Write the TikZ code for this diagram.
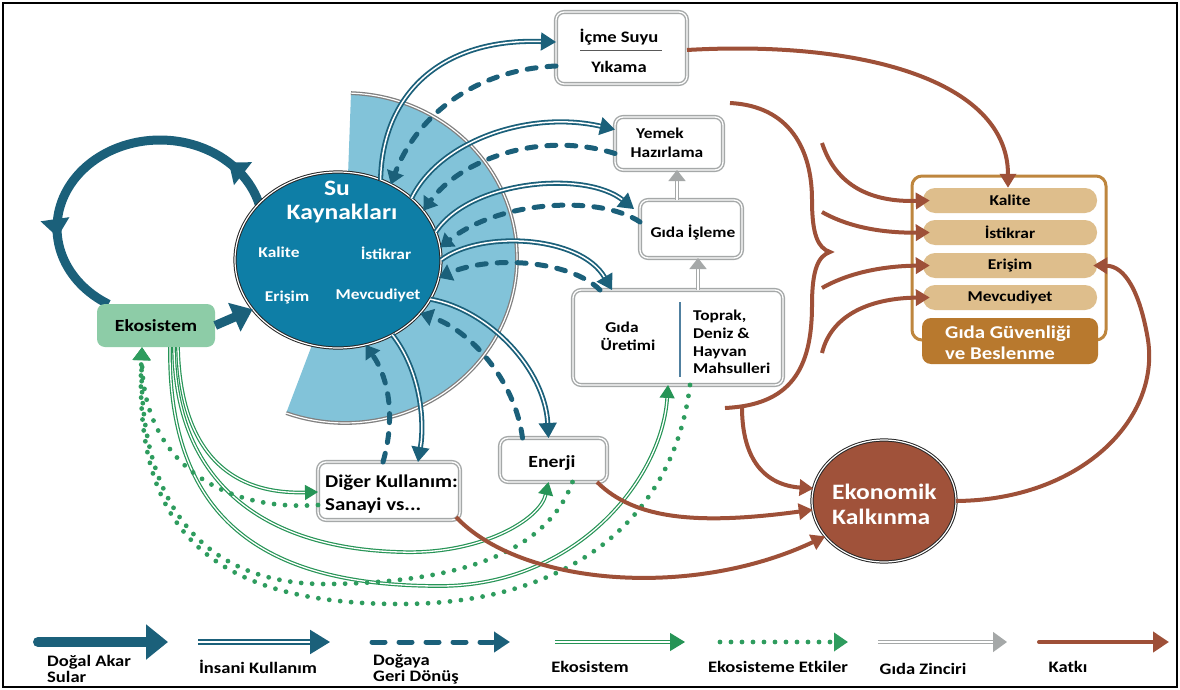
\documentclass[tikz,border=0pt]{standalone}
\usepackage{fontspec}
\setmainfont{Carlito}[FakeStretch=1.16]
\usetikzlibrary{arrows.meta,shapes.geometric,decorations.markings}
\definecolor{cTeal}{RGB}{27,96,122}
\definecolor{cSu}{RGB}{14,126,166}
\definecolor{cFan}{RGB}{130,195,217}
\definecolor{cGreen}{RGB}{38,148,86}
\definecolor{cDot}{RGB}{46,156,94}
\definecolor{cEco}{RGB}{141,204,167}
\definecolor{cBrown}{RGB}{158,80,56}
\definecolor{cEkon}{RGB}{160,82,58}
\definecolor{cTan}{RGB}{222,190,140}
\definecolor{cOchre}{RGB}{190,134,62}
\definecolor{cLab}{RGB}{184,121,46}
\definecolor{cGray}{RGB}{165,168,168}
\definecolor{cDiv}{RGB}{80,128,160}
\newcommand\fsz[2]{\fontsize{#1}{#2}\selectfont\bfseries}
\begin{document}
\begin{tikzpicture}[x=1pt,y=-1pt,
  dbl/.style={draw=cTeal,line width=1.8pt,double=white,double distance=1.5pt,-{Triangle[length=15pt,width=18pt]}},
  dsh/.style={draw=cTeal,line width=5pt,line cap=round,dash pattern=on 9pt off 11pt,-{Triangle[length=13pt,width=17pt]}},
  gdbl/.style={draw=cGreen,line width=1.2pt,double=white,double distance=1.3pt,-{Triangle[length=13pt,width=15pt]}},
  gdot/.style={draw=cDot,line width=4.8pt,line cap=round,dash pattern=on 0pt off 11pt,-{Triangle[length=13pt,width=17pt]}},
  brn/.style={draw=cBrown,line width=4pt,-{Triangle[length=14pt,width=16pt]}},
  gyar/.style={draw=cGray,line width=1.5pt,double=white,double distance=1.6pt,-{Triangle[length=11pt,width=17pt]}},
  gbox/.style={draw=cGray,line width=1.4pt,double=white,double distance=1.3pt,fill=white,rounded corners=8pt,inner sep=0pt,outer sep=0pt},
  pill/.style={fill=cTan,rounded corners=12pt,minimum width=174pt,minimum height=25pt,inner sep=0pt,font=\fsz{15}{17}},
  circ/.style={ellipse,draw=black!85,line width=1pt,double=white,double distance=1.2pt,inner sep=0pt,outer sep=0pt},
  lbl/.style={inner sep=0pt,font=\fsz{16}{18}},
]
\useasboundingbox (0,0) rectangle (1180,690);
\fill[white] (0,0) rectangle (1180,690);
\draw[line width=2pt] (3,3) rectangle (1177,687);

% fan
\fill[cFan] (345,258) -- plot[domain=-88:110,samples=80] ({345+172*cos(\x)},{258+165*sin(\x)}) -- cycle;
\draw[draw=gray,line width=1.3pt,double=white,double distance=1.2pt] plot[domain=-88:110,samples=80] ({345+172*cos(\x)},{258+165*sin(\x)});

% loop
\draw[cTeal,line width=9pt,postaction={decorate},decoration={markings,
  mark=at position 0.16 with {\arrow{Triangle[length=18pt,width=28pt]}},
  mark=at position 0.77 with {\arrow{Triangle[length=18pt,width=28pt]}}}]
  plot[domain=0:230,samples=90] ({160+103*cos(-10-\x)},{228+88*sin(-10-\x)});

% main nodes
\node[circ,fill=cSu,minimum width=206pt,minimum height=176pt] (su) at (338,260) {};
\node[lbl,text=white,font=\fsz{22}{24}] (suA) at (337,188) {Su};
\node[lbl,text=white,font=\fsz{22}{24}] (suB) at (342,214) {Kaynakları};
\node[lbl,text=white,font=\fsz{15}{17}] (suK) at (279,252) {Kalite};
\node[lbl,text=white,font=\fsz{15}{17}] (suI) at (386,253) {İstikrar};
\node[lbl,text=white,font=\fsz{15}{17}] (suE) at (287,297) {Erişim};
\node[lbl,text=white,font=\fsz{15}{17}] (suM) at (378,295) {Mevcudiyet};

\node[fill=cEco,rounded corners=8pt,minimum width=118pt,minimum height=43pt,inner sep=0pt,font=\fsz{17}{20}] (ekosis) at (156,325.5) {Ekosistem};
\draw[cTeal,line width=9pt,-{Triangle[length=20pt,width=30pt]}] (ekosis.east) -- (su.210);

\node[gbox,minimum width=131pt,minimum height=72pt] (icme) at (621.5,48) {};
\node[lbl] (icmeA) at (619,37) {İçme Suyu};
\draw[gray!70!black,line width=1pt] (580,51) -- (662,51);
\node[lbl] (icmeB) at (619,67) {Yıkama};

\node[gbox,minimum width=108pt,minimum height=53pt] (yemek) at (669,143.5) {};
\node[lbl,font=\fsz{15}{17}] (yemA) at (660,133) {Yemek};
\node[lbl,font=\fsz{15}{17}] (yemB) at (667,152) {Hazırlama};

\node[gbox,minimum width=102pt,minimum height=58pt] (isleme) at (691,229) {};
\node[lbl,font=\fsz{15}{17}] (islT) at (693,232) {Gıda İşleme};

\node[gbox,minimum width=210pt,minimum height=95pt] (uretim) at (678,337.5) {};
\node[lbl,font=\fsz{15}{17}] (urA) at (622,327) {Gıda};
\node[lbl,font=\fsz{15}{17}] (urB) at (628,344) {Üretimi};
\draw[cDiv,line width=1.3pt] (680,302) -- (680,377);
\node[lbl,font=\fsz{15}{17.7},anchor=west,align=left] (urC) at (693,342) {Toprak,\\Deniz \&\\Hayvan\\Mahsulleri};

\node[gbox,minimum width=142pt,minimum height=58pt] (diger) at (389,491) {};
\node[lbl,font=\fsz{18}{23},anchor=west,align=left] (digT) at (325,494) {Diğer Kullanım:\\Sanayi vs...};

\node[gbox,minimum width=107pt,minimum height=44pt] (enerji) at (553.5,460) {};
\node[lbl,font=\fsz{17}{20}] (enT) at (552,463) {Enerji};

\node[circ,fill=cEkon,minimum width=144pt,minimum height=122pt] (ekon) at (884,501) {};
\node[lbl,text=white,font=\fsz{22}{24},anchor=west] (ekA) at (832,492) {Ekonomik};
\node[lbl,text=white,font=\fsz{22}{24},anchor=west] (ekB) at (832,517) {Kalkınma};

\node[draw=cOchre,line width=3pt,rounded corners=10pt,minimum width=194pt,minimum height=164pt,fill=white,inner sep=0pt] (gframe) at (1009,258) {};
\node[pill] (kalite) at (1010,200.5) {Kalite};
\node[pill] (istikrar) at (1010,232.5) {İstikrar};
\node[pill] (erisim) at (1010,265.5) {Erişim};
\node[pill] (mevcud) at (1010,297.5) {Mevcudiyet};
\node[fill=cLab,rounded corners=9pt,minimum width=176pt,minimum height=46pt,inner sep=0pt] (glab) at (1010,341) {};
\node[lbl,text=white,font=\fsz{18}{21},anchor=west,align=left] (glabT) at (945,343) {Gıda Güvenliği\\ve Beslenme};

% teal arrows
\draw[dbl] (su.62) .. controls (382,95) and (440,38) .. ([yshift=6pt]icme.west);
\draw[dsh] ([yshift=-18pt]icme.west) .. controls (470,70) and (415,120) .. (su.55);
\draw[dbl] (su.40) .. controls (440,140) and (530,110) .. ([yshift=14pt]yemek.west);
\draw[dsh] ([yshift=-10pt]yemek.west) .. controls (540,130) and (460,160) .. (su.30);
\draw[dbl] (su.16) .. controls (470,180) and (585,170) .. ([xshift=-6pt,yshift=20pt]isleme.west);
\draw[dsh] ([yshift=7pt]isleme.west) .. controls (600,195) and (500,200) .. (su.7);
\draw[dbl] (su.0) .. controls (480,230) and (580,235) .. ([xshift=39pt]uretim.north west);
\draw[dsh] ([xshift=27pt]uretim.north west) .. controls (570,260) and (490,255) .. (su.-10);
\draw[dbl] (su.-23) .. controls (490,310) and (545,370) .. ([xshift=-5pt]enerji.north);
\draw[dsh] ([xshift=-31pt]enerji.north) .. controls (515,380) and (470,330) .. (su.-33);
\draw[dbl] (su.-54) .. controls (420,370) and (425,420) .. ([xshift=29pt]diger.north);
\draw[dsh] ([xshift=-6pt]diger.north) .. controls (395,420) and (390,380) .. (su.-72);

% green arrows
\draw[gdbl] ([xshift=22pt]ekosis.south) .. controls (180,440) and (220,495) .. ([yshift=-1pt]diger.west);
\draw[gdbl] ([xshift=18pt]ekosis.south) .. controls (175,480) and (260,548) .. (400,552) .. controls (480,555) and (540,520) .. ([xshift=-5pt]enerji.south);
\draw[gdbl] ([xshift=14pt]ekosis.south) .. controls (168,525) and (270,586) .. (440,586) .. controls (575,586) and (662,480) .. ([xshift=-10pt]uretim.south);
\draw[gdot] ([yshift=-14pt]diger.west) .. controls (220,512) and (142,460) .. ([xshift=-14pt]ekosis.south);
\draw[gdot] ([xshift=19pt]enerji.south) .. controls (548,548) and (470,582) .. (330,584) .. controls (200,586) and (138,500) .. ([xshift=-14pt]ekosis.south);
\draw[gdot] ([xshift=12pt]uretim.south) .. controls (675,510) and (580,604) .. (400,604) .. controls (200,604) and (134,520) .. ([xshift=-14pt]ekosis.south);

% gray food chain
\draw[gyar] ([xshift=7pt]isleme.south |- uretim.north) -- ([xshift=7pt]isleme.south);
\draw[gyar] ([xshift=-14pt]isleme.north) -- ([xshift=-14pt]isleme.north |- yemek.south);

% brown
\draw[brn] ([yshift=-2pt]icme.east) .. controls (860,40) and (1008,80) .. ([xshift=-2pt]kalite.north);
\draw[cBrown,line width=4pt] (730,103) .. controls (790,106) and (812,150) .. (812,200) .. controls (812,235) and (818,248) .. (830,252) .. controls (818,256) and (812,270) .. (812,305) .. controls (812,370) and (790,405) .. (725,408);
\coordinate (bk1) at (822,143);
\coordinate (bk2) at (822,212);
\coordinate (bk3) at (822,288);
\coordinate (bk4) at (822,353);
\coordinate (bstem) at (742,407);
\draw[brn] (bk1) .. controls (838,192) and (880,202) .. ([xshift=7pt]kalite.west);
\draw[brn] (bk2) .. controls (850,228) and (885,233) .. ([xshift=7pt]istikrar.west);
\draw[brn] (bk3) .. controls (850,272) and (885,266) .. ([xshift=7pt]erisim.west);
\draw[brn] (bk4) .. controls (832,312) and (875,298) .. ([xshift=7pt]mevcud.west);
\draw[brn] (bstem) .. controls (742,460) and (765,485) .. (ekon.170);
\draw[brn] (ekon.east) .. controls (1080,500) and (1160,420) .. (1148,340) .. controls (1140,292) and (1125,266) .. ([xshift=-4pt]erisim.east);
\draw[brn] ([xshift=-10pt]enerji.south east) .. controls (635,520) and (700,525) .. (ekon.187);
\draw[brn] ([xshift=-4pt,yshift=3pt]diger.south east) .. controls (520,585) and (690,600) .. (ekon.211);

% legend
\coordinate (L1a) at (38,642);  \coordinate (L1b) at (168,642);
\coordinate (L2a) at (198,642); \coordinate (L2b) at (330,642);
\coordinate (L3a) at (372,642); \coordinate (L3b) at (510,642);
\coordinate (L4a) at (555,642); \coordinate (L4b) at (685,642);
\coordinate (L5a) at (720,642); \coordinate (L5b) at (848,642);
\coordinate (L6a) at (878,642); \coordinate (L6b) at (1007,642);
\coordinate (L7a) at (1039,642); \coordinate (L7b) at (1169,642);
\draw[cTeal,line width=10pt,line cap=round,-{Triangle[length=22pt,width=34pt]}] (L1a) -- (L1b);
\draw[dbl,line width=2.2pt,double distance=1.8pt,-{Triangle[length=20pt,width=24pt]}] (L2a) -- (L2b);
\draw[dsh,dash pattern=on 13pt off 14pt,-{Triangle[length=16pt,width=20pt]}] (L3a) -- (L3b);
\draw[gdbl,-{Triangle[length=15pt,width=18pt]}] (L4a) -- (L4b);
\draw[gdot,-{Triangle[length=14pt,width=18pt]}] (L5a) -- (L5b);
\draw[gyar,-{Triangle[length=14pt,width=20pt]}] (L6a) -- (L6b);
\draw[brn,line cap=round,-{Triangle[length=16pt,width=20pt]}] (L7a) -- (L7b);
\node[lbl,anchor=west,align=left,font=\fsz{16}{16}] (Lt1) at (47,669) {Doğal Akar\\Sular};
\node[lbl] (Lt2) at (258,667) {İnsani Kullanım};
\node[lbl,anchor=west,align=left,font=\fsz{16}{16}] (Lt3) at (373,669) {Doğaya\\Geri Dönüş};
\node[lbl] (Lt4) at (590,667) {Ekosistem};
\node[lbl] (Lt5) at (778,667) {Ekosisteme Etkiler};
\node[lbl] (Lt6) at (923,669) {Gıda Zinciri};
\node[lbl] (Lt7) at (1068,667) {Katkı};
\end{tikzpicture}
\end{document}
